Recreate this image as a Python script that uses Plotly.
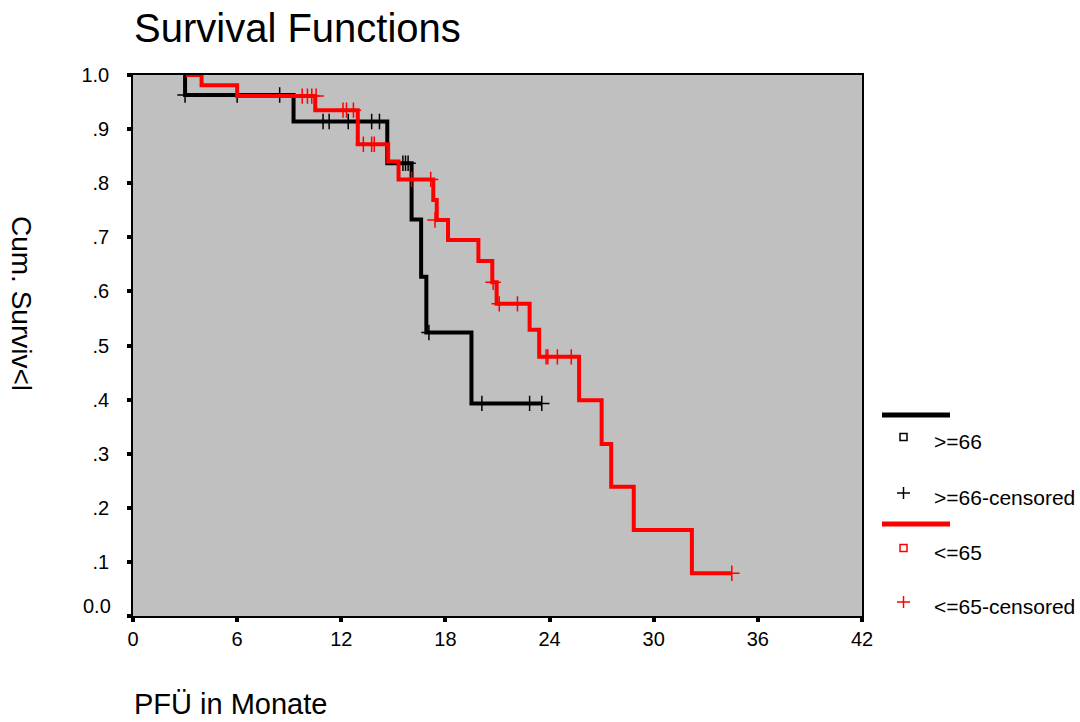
import plotly.graph_objects as go

# ---------------- data ----------------
# group ">=66" (black)
old_start = 3.0
old_event_times = [3.0, 9.25, 14.65, 16.05, 16.6, 16.9, 19.5]
old_surv = [0.963, 0.914, 0.837, 0.733, 0.627, 0.524, 0.393]
old_end = 23.55
old_cens_times = [3.0, 6.0, 8.45, 10.95, 11.3, 12.4, 13.75, 14.2, 15.55, 15.7, 15.85,
                  17.05, 20.1, 22.85, 23.55]
old_cens_surv = [0.963, 0.963, 0.963, 0.914, 0.914, 0.914, 0.914, 0.914, 0.837, 0.837, 0.837,
                 0.524, 0.393, 0.393, 0.393]

# group "<=65" (red)
young_start = 3.05
young_event_times = [3.95, 6.0, 10.5, 12.95, 14.7, 15.3, 17.3, 17.5, 18.15, 19.9, 20.7, 20.95,
                     22.85, 23.4, 25.7, 27.0, 27.55, 28.85, 32.2]
young_surv = [0.981, 0.961, 0.935, 0.872, 0.840, 0.807, 0.769, 0.732, 0.695, 0.656, 0.617, 0.577,
              0.529, 0.479, 0.399, 0.318, 0.239, 0.159, 0.079]
young_end = 34.5
young_cens_times = [9.75, 10.05, 10.3, 10.55, 12.1, 12.3, 12.7, 13.27, 13.75, 13.9, 16.05, 17.15,
                    17.4, 20.75, 21.1, 22.15, 23.8, 23.9, 24.45, 25.25, 34.5]
young_cens_surv = [0.961, 0.961, 0.961, 0.961, 0.935, 0.935, 0.935, 0.872, 0.872, 0.872, 0.807, 0.807,
                   0.732, 0.617, 0.577, 0.577, 0.479, 0.479, 0.479, 0.479, 0.079]

x_ticks = [0, 6, 12, 18, 24, 30, 36, 42]
y_ticks = [0.0, 0.1, 0.2, 0.3, 0.4, 0.5, 0.6, 0.7, 0.8, 0.9, 1.0]
y_ticktext = ["", ".1", ".2", ".3", ".4", ".5", ".6", ".7", ".8", ".9", "1.0"]

legend_labels = [">=66", ">=66-censored", "<=65", "<=65-censored"]
title_text = "Survival Functions"
x_title = "PFÜ in Monate"
y_title = "Cum. Surviv<l"

# ---------------- layout geometry ----------------
W, H = 1080, 722
L, R, T, B = 133, 862, 75, 616
FONT = "Liberation Sans, Arial, sans-serif"


def px_x(p):
    return (p - L) / (R - L)


def px_y(p):
    return (B - p) / (B - T)


def step_xy(start, times, surv, end):
    xs = [start] + list(times) + [end]
    ys = [1.0] + list(surv) + [surv[-1]]
    return xs, ys


fig = go.Figure()

for start, times, surv, end, ct, cs, col in [
    (old_start, old_event_times, old_surv, old_end, old_cens_times, old_cens_surv, "black"),
    (young_start, young_event_times, young_surv, young_end, young_cens_times, young_cens_surv, "#ff0000"),
]:
    xs, ys = step_xy(start, times, surv, end)
    fig.add_trace(go.Scatter(x=xs, y=ys, mode="lines", line=dict(color=col, width=4, shape="hv"),
                             showlegend=False, hoverinfo="skip"))
    fig.add_trace(go.Scatter(x=ct, y=cs, mode="markers",
                             marker=dict(symbol="cross-thin", size=11, line=dict(color=col, width=1.5)),
                             showlegend=False, cliponaxis=False, hoverinfo="skip"))

fig.update_layout(
    width=W, height=H,
    margin=dict(l=L, r=W - R, t=T, b=H - B, pad=0),
    paper_bgcolor="white",
    plot_bgcolor="#c0c0c0",
    showlegend=False,
    font=dict(family=FONT, color="black"),
)

fig.update_xaxes(
    range=[0, 42], tickvals=x_ticks, ticktext=[str(v) for v in x_ticks],
    ticks="outside", ticklen=4, tickwidth=4, tickcolor="black",
    showline=True, linecolor="black", linewidth=1.5, mirror=True,
    showgrid=False, zeroline=False,
    tickfont=dict(size=20, family=FONT, color="black"),
)
fig.update_yaxes(
    range=[0, 1], tickvals=y_ticks, ticktext=y_ticktext,
    ticks="outside", ticklen=4, tickwidth=4, tickcolor="black",
    showline=True, linecolor="black", linewidth=1.5, mirror=True,
    showgrid=False, zeroline=False,
    tickfont=dict(size=20, family=FONT, color="black"),
    ticklabelstandoff=14,
)

ann = []
ann.append(dict(text=title_text, x=px_x(132), y=px_y(28), xref="paper", yref="paper",
                xanchor="left", yanchor="middle", showarrow=False, font=dict(size=40, family=FONT)))
ann.append(dict(text=x_title, x=px_x(132), y=px_y(704), xref="paper", yref="paper",
                xanchor="left", yanchor="middle", showarrow=False, font=dict(size=29, family=FONT)))
ann.append(dict(text=y_title, x=px_x(22), y=px_y(303), xref="paper", yref="paper",
                xanchor="center", yanchor="middle", textangle=90, showarrow=False,
                font=dict(size=28, family=FONT)))
ann.append(dict(text="0.0", x=px_x(113), y=0, xref="paper", yref="y",
                xanchor="right", yanchor="middle", yshift=10, showarrow=False,
                font=dict(size=20, family=FONT)))

# manual legend
shapes = []
legend_rows = [
    ("line", "black", 415, None),
    ("square", "black", 437, legend_labels[0]),
    ("plus", "black", 493, legend_labels[1]),
    ("line", "#ff0000", 524, None),
    ("square", "#ff0000", 548, legend_labels[2]),
    ("plus", "#ff0000", 602, legend_labels[3]),
]
for kind, col, yp, label in legend_rows:
    if kind == "line":
        shapes.append(dict(type="line", xref="paper", yref="paper", x0=px_x(882), x1=px_x(950),
                           y0=px_y(yp), y1=px_y(yp), line=dict(color=col, width=5)))
    elif kind == "square":
        shapes.append(dict(type="rect", xref="paper", yref="paper", x0=px_x(900), x1=px_x(907),
                           y0=px_y(yp - 3.5), y1=px_y(yp + 3.5), line=dict(color=col, width=1.5)))
    else:
        shapes.append(dict(type="line", xref="paper", yref="paper", x0=px_x(897), x1=px_x(910),
                           y0=px_y(yp), y1=px_y(yp), line=dict(color=col, width=1.5)))
        shapes.append(dict(type="line", xref="paper", yref="paper", x0=px_x(903.5), x1=px_x(903.5),
                           y0=px_y(yp - 6), y1=px_y(yp + 6), line=dict(color=col, width=1.5)))
    if label:
        ann.append(dict(text=label, x=px_x(932), y=px_y(yp + 4), xref="paper", yref="paper",
                        xanchor="left", yanchor="middle", showarrow=False,
                        font=dict(size=21, family=FONT)))

fig.update_layout(annotations=ann, shapes=shapes)
fig.write_html("out.html")
